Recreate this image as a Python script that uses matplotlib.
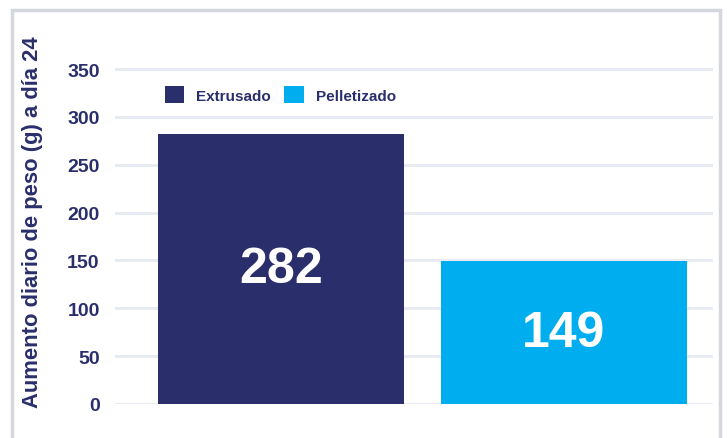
import matplotlib.pyplot as plt
from matplotlib.patches import Rectangle

categorias = ["Extrusado", "Pelletizado"]
valores = [282, 149]
colores = ["#2a2f6c", "#00aeef"]
ticks_y = [0, 50, 100, 150, 200, 250, 300, 350]

navy = "#2a2f6c"
plt.rcParams['font.family'] = ['Liberation Sans', 'DejaVu Sans']
plt.rcParams['font.weight'] = 'bold'

fig = plt.figure(figsize=(7.27, 4.39), dpi=100)
ax = fig.add_axes([115 / 727, 1 - 405 / 439, 598 / 727, (405 - 60.5) / 439])

x = list(range(len(categorias)))
barras = ax.bar(x, valores, width=0.87, color=colores, label=categorias, zorder=3)

for xi, v in zip(x, valores):
    ax.text(xi, v / 2, str(v), ha="center", va="center", color="white",
            fontsize=36, fontweight="bold", zorder=4)

ax.set_xlim(-0.587, 1.527)
ax.set_ylim(0, 360)
ax.set_yticks(ticks_y)
ax.set_xticks([])
ax.yaxis.grid(True, color="#e8ebf2", linewidth=2.2, zorder=0)
ax.tick_params(axis="y", length=0, pad=11, labelsize=14, labelcolor=navy)
for lab in ax.get_yticklabels():
    lab.set_fontweight("bold")
for s in ax.spines.values():
    s.set_visible(False)

fig.text(33 / 727, 1 - 222 / 439, "Aumento diario de peso (g) a día 24", rotation=90,
         ha="center", va="center", fontsize=15.8, fontweight="bold", color=navy)

ax.legend(barras, categorias, loc="upper left", bbox_to_anchor=(0.06, 0.962),
          ncol=2, frameon=False, fontsize=11, handlelength=1.3, handleheight=1.3,
          handletextpad=0.75, columnspacing=0.9, labelcolor=navy)

fig.patches.append(Rectangle((12 / 727, -0.1), (720 - 12) / 727, 1.1 - 11 / 439,
                             transform=fig.transFigure, fill=False,
                             edgecolor="#d4d7de", linewidth=2.5))

fig.savefig("out.png", dpi=100)
